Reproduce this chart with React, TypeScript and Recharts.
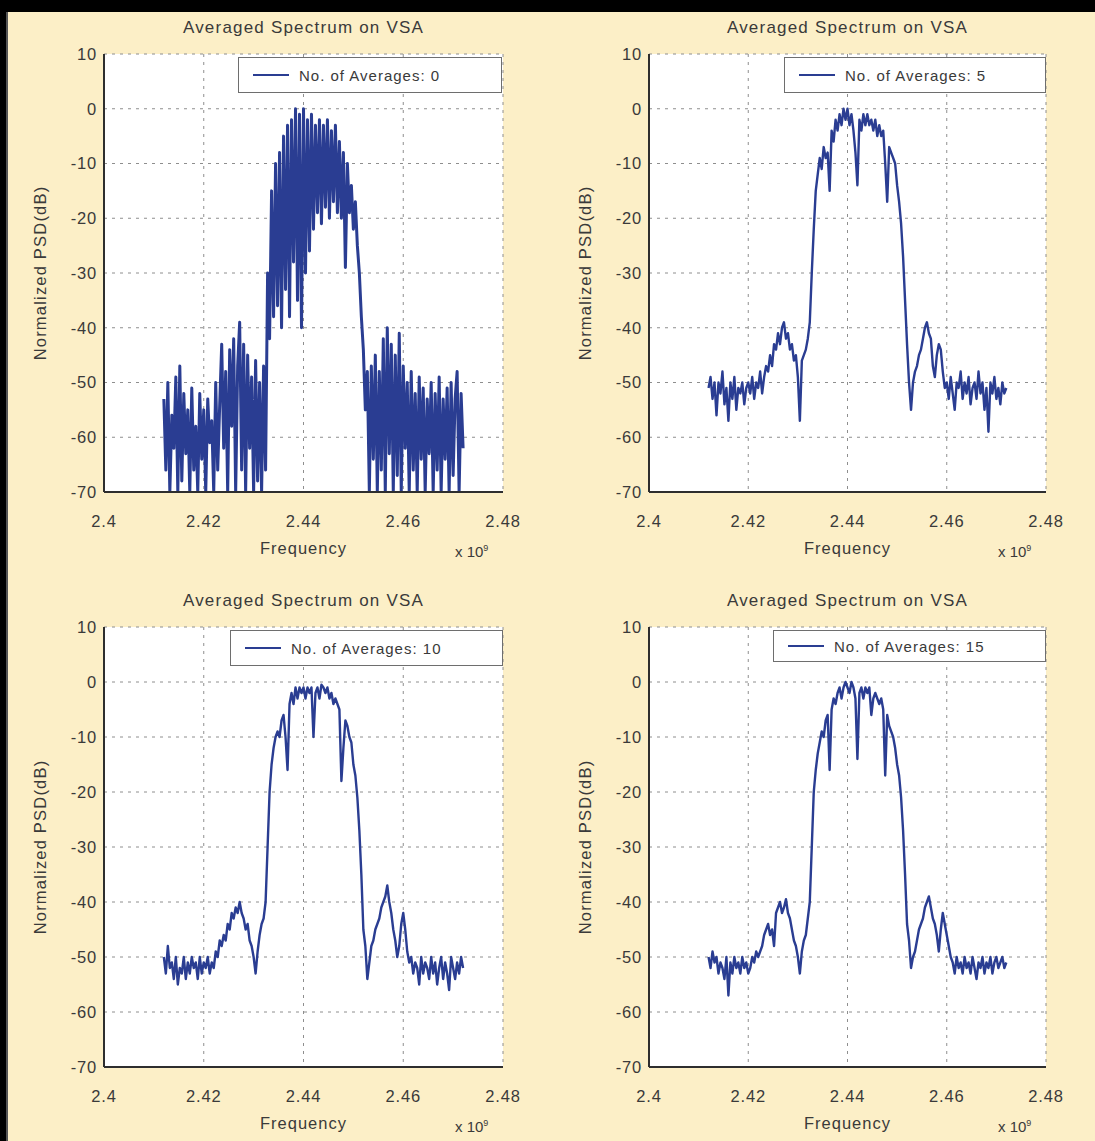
import React from "react";
import { CartesianGrid, Legend, Line, LineChart, XAxis, YAxis } from "recharts";

// spectrum bins: 2.412 .. 2.472 GHz, shown on an axis scaled by 10^9
const FREQ_START = 2.412;
const FREQ_STEP = 0.0004;
const X_TICKS = [2.4, 2.42, 2.44, 2.46, 2.48];
const Y_TICKS = [10, 0, -10, -20, -30, -40, -50, -60, -70];

// normalized PSD (dB)
const PSD_AVG_0 = [
  -53, -66, -50, -70, -56, -62, -49, -70, -47, -68,
  -52, -63, -55, -70, -51, -66, -58, -70, -52, -64,
  -55, -70, -53, -61, -57, -70, -50, -66, -54, -43,
  -62, -48, -70, -44, -58, -42, -70, -47, -39, -66,
  -43, -70, -45, -62, -49, -70, -46, -68, -50, -70,
  -47, -66, -30, -42, -15, -38, -10, -36, -8, -40,
  -5, -33, -3, -38, -2, -28, 0, -35, -1, -40,
  0, -30, -2, -26, -1, -22, -3, -19, -2, -21,
  -3, -18, -2, -20, -4, -17, -3, -19, -6, -20,
  -8, -29, -10, -19, -14, -22, -17, -25, -30, -38,
  -44, -55, -48, -70, -47, -64, -45, -70, -48, -66,
  -42, -70, -40, -63, -43, -70, -45, -67, -41, -70,
  -47, -62, -50, -70, -48, -66, -52, -70, -49, -64,
  -51, -70, -53, -63, -50, -70, -52, -66, -49, -70,
  -53, -64, -51, -70, -50, -67, -53, -48, -70, -52,
  -62,
];

const PSD_AVG_5 = [
  -51, -49, -53, -50, -56, -50, -52, -48, -54, -51,
  -57, -50, -53, -49, -55, -51, -52, -50, -54, -51,
  -50, -52, -49, -53, -50, -51, -48, -52, -49, -47,
  -48, -45, -47, -43, -44, -41, -43, -40, -39, -42,
  -41, -44, -43, -46, -45, -49, -57, -46, -45, -44,
  -42, -39, -30, -22, -15, -12, -9, -11, -7, -9,
  -8, -15, -4, -6, -2, -4, -1, -3, 0, -2,
  0, -3, -1, -4, -8, -14, -2, -4, -1, -3,
  -1, -3, -2, -4, -2, -5, -3, -5, -4, -10,
  -17, -7, -8, -9, -10, -14, -17, -21, -27, -35,
  -43, -50, -55, -50, -48, -47, -45, -44, -42, -40,
  -39, -41, -42, -47, -49, -45, -43, -44, -48, -51,
  -50, -53, -49, -52, -55, -50, -51, -48, -53, -50,
  -52, -49, -54, -51, -50, -53, -48, -52, -50, -55,
  -51, -59, -50, -52, -49, -53, -51, -54, -50, -52,
  -51,
];

const PSD_AVG_10 = [
  -50, -53, -48, -52, -51, -54, -50, -55, -52, -53,
  -50, -54, -51, -53, -50, -52, -51, -54, -50, -53,
  -51, -52, -50, -53, -51, -52, -49, -50, -47, -48,
  -46, -47, -44, -45, -42, -43, -41, -42, -40, -42,
  -43, -45, -44, -47, -48, -50, -53, -49, -46, -44,
  -43, -40, -30, -20, -15, -12, -10, -9, -10, -7,
  -6, -10, -16, -4, -2, -4, -1, -3, -1, -2,
  -1, -3, -1, -2, -1, -10, -2, -1, -3, -0.5,
  -1, -2, -1, -3, -2, -4, -3, -4, -5, -18,
  -12, -7, -8, -10, -11, -15, -17, -21, -27, -35,
  -45, -48, -54, -51, -48, -47, -45, -44, -43, -41,
  -40, -39, -37, -40, -42, -45, -47, -50, -48, -44,
  -42, -45, -49, -51, -50, -53, -51, -52, -55, -50,
  -53, -51, -52, -54, -50, -53, -51, -55, -52, -50,
  -54, -51, -53, -56, -50, -52, -54, -51, -53, -50,
  -52,
];

const PSD_AVG_15 = [
  -50, -52, -49, -51, -50, -53, -51, -52, -54, -50,
  -57, -51, -53, -50, -52, -51, -53, -50, -52, -51,
  -53, -52, -50, -51, -49, -50, -49, -48, -46, -45,
  -44, -46, -45, -48, -42, -41, -40, -42, -41, -39.5,
  -42, -43, -45, -47, -48, -50, -53, -49, -47, -46,
  -43, -40, -30, -20, -16, -13, -11, -9, -10, -7,
  -6, -16, -5, -3, -4, -2, -1, -3, -1, 0,
  -1, -2, 0, -1, -3, -14, -2, -1, -3, -1,
  -2, -1, -6, -3, -2, -3, -4, -3, -5, -17,
  -6, -8, -9, -10, -12, -15, -17, -21, -27, -35,
  -44, -47, -52, -50, -49, -47, -45, -44, -43, -41,
  -40, -39, -41, -43, -44, -46, -49, -45, -42, -44,
  -46, -48, -50, -51, -53, -50, -52, -51, -53, -50,
  -52, -51, -53, -50, -52, -54, -51, -52, -50, -53,
  -51, -52, -50, -53, -51, -50, -52, -51, -50, -52,
  -51,
];

const AVERAGES = [0, 5, 10, 15];
const SERIES = [PSD_AVG_0, PSD_AVG_5, PSD_AVG_10, PSD_AVG_15];

// page layout (px): plot rectangle and legend box of each panel
const LAYOUT = [
  { plot: { x: 104, y: 54, w: 399, h: 438 }, legend: { x: 238, y: 57, w: 264, h: 36 }, stroke: 3 },
  { plot: { x: 649, y: 54, w: 397, h: 438 }, legend: { x: 784, y: 57, w: 262, h: 36 }, stroke: 2.4 },
  { plot: { x: 104, y: 627, w: 399, h: 440 }, legend: { x: 230, y: 630, w: 273, h: 36 }, stroke: 2.4 },
  { plot: { x: 649, y: 627, w: 397, h: 440 }, legend: { x: 773, y: 630, w: 273, h: 32 }, stroke: 2.4 },
];

const BG = "#FCEFC7";
const TRACE = "#2A3D92";
const FRAME = "#2E2E2E";
const TEXT = "#3A3A3A";
const FONT = "'Liberation Sans', Arial, Helvetica, sans-serif";

const Y_AXIS_W = 128;
const X_AXIS_H = 70;
const PAD = 12;
const PAD_RIGHT = 30;

function Panel({ index }: { index: number }) {
  const { plot, legend, stroke } = LAYOUT[index];
  const averages = AVERAGES[index];
  const data = SERIES[index].map((psd, i) => ({
    freq: +(FREQ_START + i * FREQ_STEP).toFixed(4),
    psd,
  }));
  const left = plot.x - Y_AXIS_W;
  const top = plot.y - PAD;
  const width = Y_AXIS_W + plot.w + PAD_RIGHT;
  const height = PAD + plot.h + X_AXIS_H;
  const tickStyle = { fontSize: 16.5, fill: TEXT, fontFamily: FONT, letterSpacing: "0.8px" };

  return (
    <>
      <div
        style={{
          position: "absolute",
          left: plot.x,
          width: plot.w,
          top: plot.y - 36,
          textAlign: "center",
          fontFamily: FONT,
          fontSize: 17,
          letterSpacing: "1.2px",
          color: TEXT,
        }}
      >
        Averaged Spectrum on VSA
      </div>
      <div style={{ position: "absolute", left, top }}>
        <LineChart
          width={width}
          height={height}
          data={data}
          margin={{ top: PAD, right: PAD_RIGHT, bottom: 0, left: 0 }}
        >
          <CartesianGrid stroke="#8E8E8E" strokeDasharray="3 5" fill="#FFFFFF" />
          <XAxis
            dataKey="freq"
            type="number"
            domain={[2.4, 2.48]}
            ticks={X_TICKS}
            allowDataOverflow
            height={X_AXIS_H}
            tickLine={false}
            tickMargin={17}
            tickFormatter={(v: number) => String(+v.toFixed(2))}
            tick={tickStyle}
            axisLine={{ stroke: FRAME, strokeWidth: 2 }}
            label={{
              value: "Frequency",
              position: "insideBottom",
              offset: 8,
              style: { fontSize: 16.5, fill: TEXT, fontFamily: FONT, letterSpacing: "1px" },
            }}
          />
          <XAxis xAxisId="frame" orientation="top" height={0} tick={false} tickLine={false} axisLine={{ stroke: FRAME, strokeWidth: 2 }} />
          <YAxis
            type="number"
            domain={[-70, 10]}
            ticks={Y_TICKS}
            allowDataOverflow
            width={Y_AXIS_W}
            tickLine={false}
            tickMargin={1}
            tick={tickStyle}
            axisLine={{ stroke: FRAME, strokeWidth: 2 }}
            label={{
              value: "Normalized PSD(dB)",
              angle: -90,
              position: "center",
              style: { fontSize: 16.5, fill: TEXT, fontFamily: FONT, letterSpacing: "1.2px" },
            }}
          />
          <YAxis yAxisId="frame" orientation="right" width={0} tick={false} tickLine={false} axisLine={{ stroke: FRAME, strokeWidth: 2 }} />
          <Legend
            layout="vertical"
            align="center"
            verticalAlign="middle"
            wrapperStyle={{
              left: legend.x - left,
              top: legend.y - top,
              width: legend.w,
              height: legend.h,
            }}
            content={({ payload }) => {
              const item = payload && payload[0];
              return (
                <div
                  style={{
                    boxSizing: "border-box",
                    width: legend.w,
                    height: legend.h,
                    border: "1px solid #6E6E6E",
                    background: "#FFFFFF",
                    display: "flex",
                    alignItems: "center",
                    paddingLeft: 14,
                    fontFamily: FONT,
                    fontSize: 15,
                    letterSpacing: "1px",
                    color: TEXT,
                  }}
                >
                  <svg width={36} height={4} style={{ marginRight: 10 }}>
                    <line x1={0} y1={2} x2={36} y2={2} stroke={item?.color ?? TRACE} strokeWidth={2} />
                  </svg>
                  <span>{item?.value}</span>
                </div>
              );
            }}
          />
          <Line
            type="linear"
            dataKey="psd"
            name={`No. of Averages: ${averages}`}
            stroke={TRACE}
            strokeWidth={stroke}
            strokeLinejoin="round"
            dot={false}
            isAnimationActive={false}
          />
        </LineChart>
      </div>
      <div
        style={{
          position: "absolute",
          left: plot.x + plot.w - 48,
          top: plot.y + plot.h + 51,
          fontFamily: FONT,
          fontSize: 15,
          color: TEXT,
        }}
      >
        x 10<sup style={{ fontSize: 9 }}>9</sup>
      </div>
    </>
  );
}

export default function App() {
  return (
    <div
      style={{
        position: "absolute",
        left: 0,
        top: 0,
        width: 1095,
        height: 1141,
        background: BG,
        overflow: "hidden",
      }}
    >
      <div style={{ position: "absolute", left: 0, top: 0, width: 1095, height: 12, background: "#000" }} />
      <div style={{ position: "absolute", left: 0, top: 0, width: 6, height: 1141, background: "#000" }} />
      <div style={{ position: "absolute", left: 6, top: 12, width: 2, height: 1129, background: "#555" }} />
      {AVERAGES.map((_, i) => (
        <Panel key={i} index={i} />
      ))}
    </div>
  );
}
